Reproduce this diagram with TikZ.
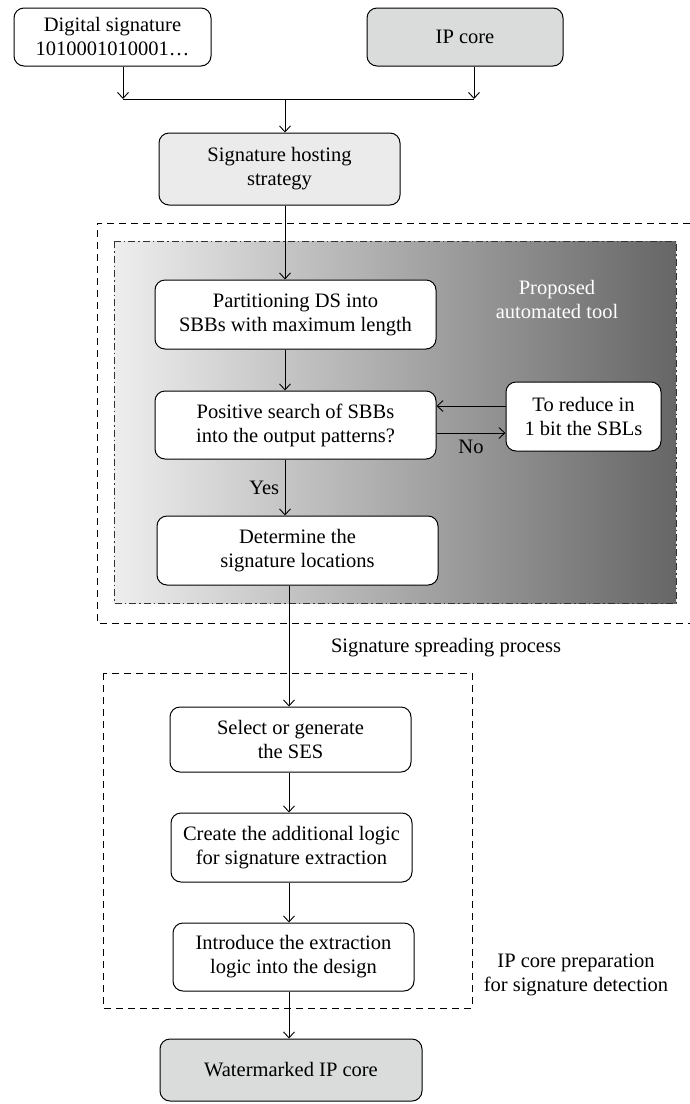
\documentclass[tikz,border=0pt]{standalone}
\usepackage{fontspec}
\setmainfont{Liberation Serif}
\usetikzlibrary{arrows.meta}

\definecolor{boxgray}{HTML}{DADCDC}
\definecolor{hostgray}{HTML}{EBEBEB}
\definecolor{shadelight}{HTML}{EEEEEE}
\definecolor{shadedark}{HTML}{666666}

\tikzset{
  box/.style={draw, rounded corners=10pt, line width=1pt, align=center, inner sep=0pt, fill=white},
  arr/.style={-{Straight Barb[length=6pt,width=11pt]}, line width=0.9pt},
  dashbox/.style={line width=0.9pt, dash pattern=on 7pt off 5pt},
  dotbox/.style={line width=0.9pt, black!80, dash pattern=on 7pt off 3pt on 1.5pt off 3pt},
}

\begin{document}
\begin{tikzpicture}[x=1pt, y=-1pt, font=\fontsize{20.5}{24}\selectfont]
\useasboundingbox (0,0) rectangle (690,1104);

% Inputs
\node[box, minimum width=197pt, minimum height=58pt] (ds) at (112.5,37) {Digital signature\\1010001010001\ldots};
\node[box, fill=boxgray, minimum width=196pt, minimum height=58pt] (ip) at (465,37) {IP core};
\node[box, fill=hostgray, minimum width=241pt, minimum height=72pt] (host) at (279.5,169) {Signature hosting\\strategy};

% Spines and junction
\coordinate (sa) at (285,0);
\coordinate (sb) at (289,0);
\coordinate (jl) at (123,99);
\coordinate (jr) at (474,99);
\coordinate (jm) at (285,99);

\draw[arr] (ds.south -| jl) -- (jl);
\draw[arr] (ip.south -| jr) -- (jr);
\draw[line width=0.9pt] (jl) -- (jr);
\draw[arr] (jm) -- (host.north -| jm);

% Signature spreading process
\draw[dashbox] (690,223) -- (97,223) -- (97,623) -- (690,623);
\shade[left color=shadelight, right color=shadedark] (114,241) rectangle (676,603);
\draw[dotbox] (114,241) rectangle (676,603);
\node[white, align=center] (tool) at (557,299) {Proposed\\automated tool};

\node[box, minimum width=281pt, minimum height=69pt] (part) at (295.5,314.5) {Partitioning DS into\\SBBs with maximum length};
\node[box, minimum width=281pt, minimum height=68pt] (pos) at (295.5,425) {Positive search of SBBs\\into the output patterns?};
\node[box, minimum width=155pt, minimum height=69pt] (red) at (583.5,416.5) {To reduce in\\1 bit the SBLs};
\node[box, minimum width=281pt, minimum height=69pt] (det) at (297.5,550.5) {Determine the\\signature locations};

\draw[arr] (host.south -| sa) -- (part.north -| sa);
\draw[arr] (part.south -| sa) -- (pos.north -| sa);
\draw[arr] (pos.south -| sa) -- node (yes) [left=2pt] {Yes} (det.north -| sa);
\draw[arr] ([yshift=-8pt]pos.east) -- node (no) [below=3pt] {No} ([yshift=-8pt]pos.east -| red.west);
\draw[arr] ([yshift=10.5pt]red.west) -- ([yshift=10.5pt]red.west -| pos.east);

\node (spread) at (446,648) {Signature spreading process};

% IP core preparation
\draw[dashbox] (103,673) rectangle (472,1008);
\node[align=center] (prep) at (576,975) {IP core preparation\\for signature detection};

\node[box, minimum width=241pt, minimum height=65pt] (sel) at (290.5,739.5) {Select or generate\\the SES};
\node[box, minimum width=241pt, minimum height=69pt] (cre) at (291.5,847.5) {Create the additional logic\\for signature extraction};
\node[box, minimum width=241pt, minimum height=68pt] (intro) at (293.5,957) {Introduce the extraction\\logic into the design};
\node[box, fill=boxgray, minimum width=262pt, minimum height=62pt] (water) at (291,1070) {Watermarked IP core};

\draw[arr] (det.south -| sb) -- (sel.north -| sb);
\draw[arr] (sel.south -| sb) -- (cre.north -| sb);
\draw[arr] (cre.south -| sb) -- (intro.north -| sb);
\draw[arr] (intro.south -| sb) -- (water.north -| sb);
\end{tikzpicture}
\end{document}
